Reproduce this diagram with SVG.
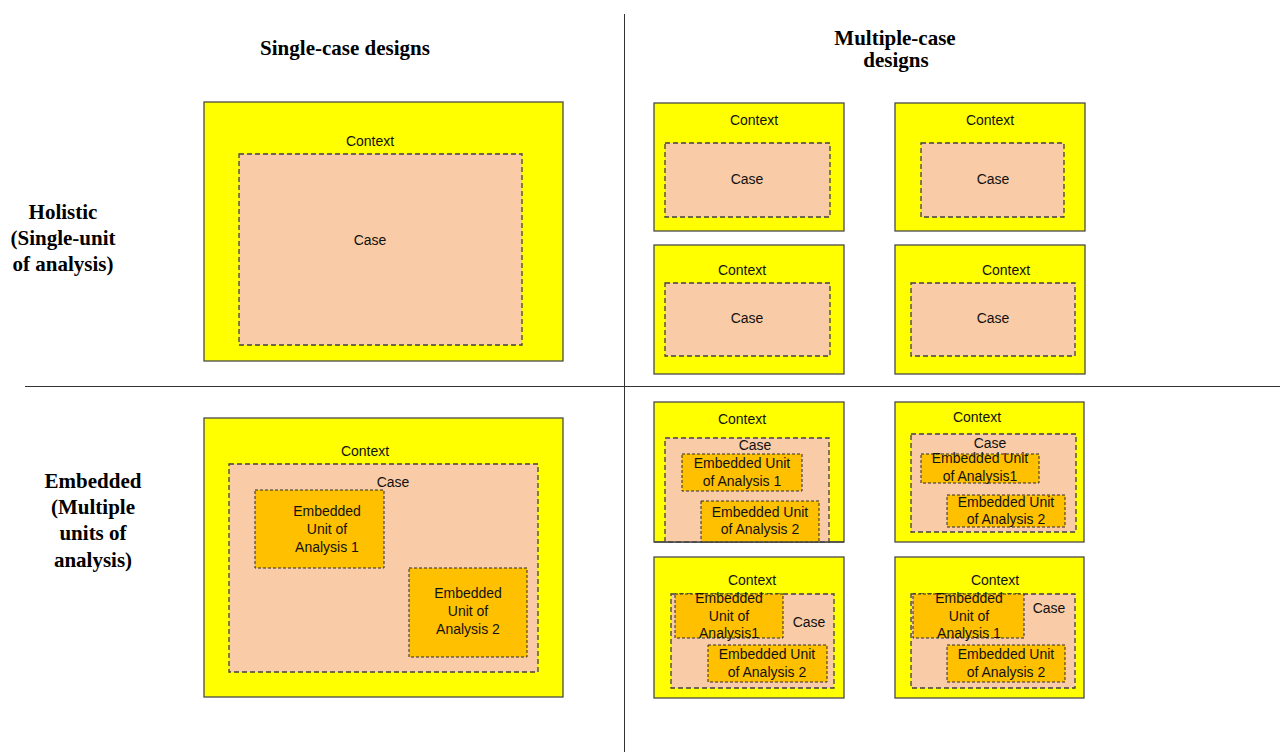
<svg xmlns="http://www.w3.org/2000/svg" width="1284" height="752" viewBox="0 0 1284 752">
  <style>
    .ctx { fill: #FFFF00; stroke: #4a4a4a; stroke-width: 1.3; }
    .edge { stroke: #4a4a4a; stroke-width: 1.3; }
    .case { fill: #F9CBA6; stroke: #404040; stroke-width: 1.3; stroke-dasharray: 5 3; }
    .eu { fill: #FFC000; stroke: #2a2a2a; stroke-width: 1; stroke-dasharray: 3 2; }
    .lbl { font-family: "Liberation Sans", Arial, sans-serif; font-size: 14px; fill: #111; text-anchor: middle; }
    .title { font-family: "Liberation Serif", "Times New Roman", serif; font-size: 21px; font-weight: bold; fill: #000; text-anchor: middle; }
    .div { stroke: #333; stroke-width: 1; }
  </style>

  <!-- quadrant dividers -->
  <g id="dividers">
    <line class="div" x1="624.5" y1="14" x2="624.5" y2="752"/>
    <line class="div" x1="25" y1="386.5" x2="1280" y2="386.5"/>
  </g>

  <!-- headings -->
  <g id="headings">
    <text class="title" x="345" y="55">Single-case designs</text>
    <text class="title" x="895" y="45">Multiple-case</text>
    <text class="title" x="896" y="67">designs</text>
    <text class="title" x="63" y="219">Holistic</text>
    <text class="title" x="63" y="245">(Single-unit</text>
    <text class="title" x="63" y="271">of analysis)</text>
    <text class="title" x="93" y="488">Embedded</text>
    <text class="title" x="93" y="514">(Multiple</text>
    <text class="title" x="93" y="540">units of</text>
    <text class="title" x="93" y="567">analysis)</text>
  </g>

  <!-- single-case holistic -->
  <g id="single-holistic">
    <rect class="ctx" x="204" y="102" width="359" height="259"/>
    <rect class="case" x="239" y="154" width="283" height="191"/>
    <text class="lbl" x="370" y="146">Context</text>
    <text class="lbl" x="370" y="245">Case</text>
  </g>

  <!-- multiple-case holistic -->
  <g id="multi-holistic-1">
    <rect class="ctx" x="654" y="103" width="190" height="128"/>
    <rect class="case" x="665" y="143" width="165" height="74"/>
    <text class="lbl" x="754" y="125">Context</text>
    <text class="lbl" x="747" y="184">Case</text>
  </g>
  <g id="multi-holistic-2">
    <rect class="ctx" x="895" y="103" width="190" height="128"/>
    <rect class="case" x="921" y="143" width="143" height="74"/>
    <text class="lbl" x="990" y="125">Context</text>
    <text class="lbl" x="993" y="184">Case</text>
  </g>
  <g id="multi-holistic-3">
    <rect class="ctx" x="654" y="245" width="190" height="129"/>
    <rect class="case" x="665" y="283" width="165" height="73"/>
    <text class="lbl" x="742" y="275">Context</text>
    <text class="lbl" x="747" y="323">Case</text>
  </g>
  <g id="multi-holistic-4">
    <rect class="ctx" x="895" y="245" width="190" height="129"/>
    <rect class="case" x="911" y="283" width="164" height="73"/>
    <text class="lbl" x="1006" y="275">Context</text>
    <text class="lbl" x="993" y="323">Case</text>
  </g>

  <!-- single-case embedded -->
  <g id="single-embedded">
    <rect class="ctx" x="204" y="418" width="359" height="279"/>
    <rect class="case" x="229" y="464" width="309" height="208"/>
    <text class="lbl" x="365" y="456">Context</text>
    <text class="lbl" x="393" y="487">Case</text>
    <rect class="eu" x="255" y="490" width="129" height="78"/>
    <text class="lbl" x="327" y="516">Embedded</text>
    <text class="lbl" x="327" y="534">Unit of</text>
    <text class="lbl" x="327" y="552">Analysis 1</text>
    <rect class="eu" x="409" y="568" width="118" height="89"/>
    <text class="lbl" x="468" y="598">Embedded</text>
    <text class="lbl" x="468" y="616">Unit of</text>
    <text class="lbl" x="468" y="634">Analysis 2</text>
  </g>

  <!-- multiple-case embedded -->
  <g id="multi-embedded-1">
    <rect class="ctx" x="654" y="402" width="190" height="140"/>
    <rect class="case" x="665" y="438" width="164" height="104"/>
    <text class="lbl" x="742" y="424">Context</text>
    <text class="lbl" x="755" y="450">Case</text>
    <rect class="eu" x="682" y="454" width="120" height="37"/>
    <text class="lbl" x="742" y="468">Embedded Unit</text>
    <text class="lbl" x="742" y="486">of Analysis 1</text>
    <rect class="eu" x="701" y="501" width="118" height="41"/>
    <text class="lbl" x="760" y="517">Embedded Unit</text>
    <text class="lbl" x="760" y="534">of Analysis 2</text>
    <!-- bottom edge of the context box runs over the inner boxes -->
    <line class="edge" x1="654" y1="542" x2="844" y2="542"/>
  </g>
  <g id="multi-embedded-2">
    <rect class="ctx" x="895" y="402" width="189" height="140"/>
    <rect class="case" x="911" y="434" width="165" height="98"/>
    <text class="lbl" x="977" y="422">Context</text>
    <text class="lbl" x="990" y="448">Case</text>
    <rect class="eu" x="921" y="454" width="118" height="29"/>
    <text class="lbl" x="980" y="463">Embedded Unit</text>
    <text class="lbl" x="980" y="481">of Analysis1</text>
    <rect class="eu" x="947" y="495" width="118" height="32"/>
    <text class="lbl" x="1006" y="507">Embedded Unit</text>
    <text class="lbl" x="1006" y="524">of Analysis 2</text>
  </g>
  <g id="multi-embedded-3">
    <rect class="ctx" x="654" y="557" width="190" height="141"/>
    <rect class="case" x="671" y="594" width="163" height="94"/>
    <text class="lbl" x="752" y="585">Context</text>
    <text class="lbl" x="809" y="627">Case</text>
    <rect class="eu" x="675" y="594" width="108" height="44"/>
    <text class="lbl" x="729" y="603">Embedded</text>
    <text class="lbl" x="729" y="621">Unit of</text>
    <text class="lbl" x="729" y="638">Analysis1</text>
    <rect class="eu" x="708" y="645" width="119" height="37"/>
    <text class="lbl" x="767" y="659">Embedded Unit</text>
    <text class="lbl" x="767" y="677">of Analysis 2</text>
  </g>
  <g id="multi-embedded-4">
    <rect class="ctx" x="895" y="557" width="189" height="141"/>
    <rect class="case" x="911" y="594" width="164" height="94"/>
    <text class="lbl" x="995" y="585">Context</text>
    <text class="lbl" x="1049" y="613">Case</text>
    <rect class="eu" x="913" y="594" width="111" height="44"/>
    <text class="lbl" x="969" y="603">Embedded</text>
    <text class="lbl" x="969" y="621">Unit of</text>
    <text class="lbl" x="969" y="638">Analysis 1</text>
    <rect class="eu" x="947" y="645" width="118" height="37"/>
    <text class="lbl" x="1006" y="659">Embedded Unit</text>
    <text class="lbl" x="1006" y="677">of Analysis 2</text>
  </g>
</svg>
